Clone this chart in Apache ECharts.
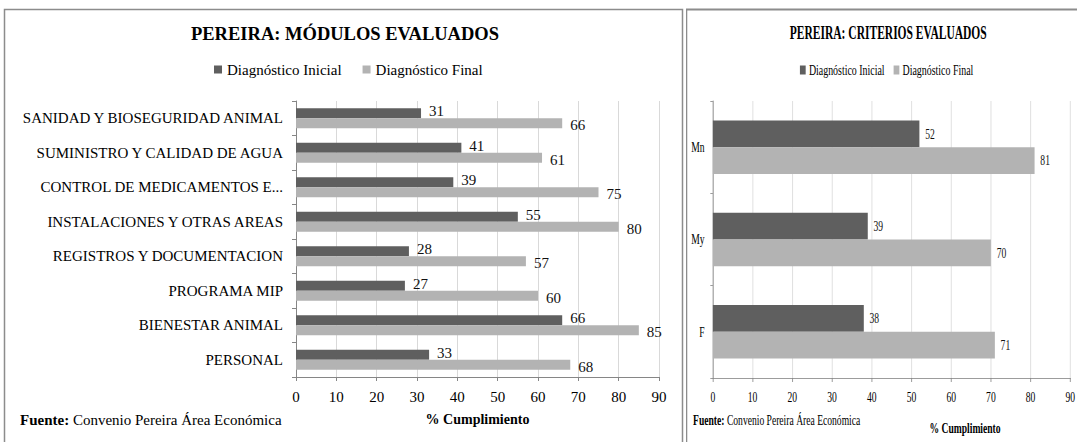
<!DOCTYPE html>
<html>
<head>
<meta charset="utf-8">
<script src="https://cdn.jsdelivr.net/npm/echarts@6/dist/echarts.min.js"></script>
<style>
  html, body { margin: 0; padding: 0; background: #fff; }
  #left { position: absolute; left: 0; top: 0; width: 686px; height: 442px; }
  #rightWrap { position: absolute; left: 686px; top: 0; width: 391px; height: 442px; overflow: hidden; }
  #right { width: 611px; height: 442px; transform: scaleX(0.64); transform-origin: 0 0; }
</style>
</head>
<body>
<div id="left"></div>
<div id="rightWrap"><div id="right"></div></div>
<script>
// ---- Data ----
const seriesNames = ['Diagnóstico Inicial', 'Diagnóstico Final'];
const moduleCategories = [
  'SANIDAD Y BIOSEGURIDAD ANIMAL',
  'SUMINISTRO Y CALIDAD DE AGUA',
  'CONTROL DE MEDICAMENTOS E...',
  'INSTALACIONES Y OTRAS AREAS',
  'REGISTROS Y DOCUMENTACION',
  'PROGRAMA MIP',
  'BIENESTAR ANIMAL',
  'PERSONAL'
];
const moduleInicial = [31, 41, 39, 55, 28, 27, 66, 33];
const moduleFinal   = [66, 61, 75, 80, 57, 60, 85, 68];

const criteriaCategories = ['Mn', 'My', 'F'];
const criteriaInicial = [52, 39, 38];
const criteriaFinal   = [81, 70, 71];

const axisMin = 0, axisMax = 90, axisStep = 10;

// ---- Styles ----
const FONT = '"Liberation Serif", "Times New Roman", serif';
const DARK = '#5f5f5f';
const LIGHT = '#b3b3b3';
const AXIS = '#868686';
const GRID = '#d9d9d9';

function xAxisCfg(extra) {
  return Object.assign({
    type: 'value', min: axisMin, max: axisMax, interval: axisStep,
    axisLine: { show: true, lineStyle: { color: AXIS, width: 1 } },
    axisTick: { show: true, length: 4, lineStyle: { color: AXIS } },
    splitLine: { show: true, lineStyle: { color: GRID, width: 1 } },
    axisLabel: { fontFamily: FONT, fontSize: 15, color: '#000', margin: 12 }
  }, extra || {});
}
function yAxisCfg(cats) {
  return {
    type: 'category', inverse: true, data: cats,
    axisLine: { show: true, lineStyle: { color: AXIS, width: 1 } },
    axisTick: { show: true, length: 4, lineStyle: { color: AXIS } },
    axisLabel: { fontFamily: FONT, fontSize: 15, color: '#000', margin: 13 },
    splitLine: { show: false }
  };
}
function barSeries(name, data, color, labelOffset, dist) {
  return {
    type: 'bar', name: name, data: data,
    itemStyle: { color: color },
    barGap: '0%', barCategoryGap: '42%',
    label: { show: true, position: 'right', distance: dist, offset: labelOffset,
             fontFamily: FONT, fontSize: 15, color: '#111' }
  };
}
function fuente(x, y) {
  return {
    type: 'text', x: x, y: y,
    style: {
      text: '{b|Fuente:} {n|Convenio Pereira Área Económica}',
      fontFamily: FONT, fontSize: 15, fill: '#000', verticalAlign: 'middle',
      rich: {
        b: { fontWeight: 'bold', fontFamily: FONT, fontSize: 15, fill: '#000' },
        n: { fontFamily: FONT, fontSize: 15, fill: '#000' }
      }
    }
  };
}

// ---- Left chart ----
const left = echarts.init(document.getElementById('left'), null, { renderer: 'svg' });
left.setOption({
  animation: false,
  textStyle: { fontFamily: FONT },
  title: {
    text: 'PEREIRA: MÓDULOS EVALUADOS', left: 345, textAlign: 'center', top: 24, padding: 0,
    textStyle: { fontFamily: FONT, fontSize: 18.5, fontWeight: 'bold', color: '#000' }
  },
  legend: {
    data: seriesNames, left: 214, top: 62, padding: 0, itemGap: 21,
    itemWidth: 8, itemHeight: 8, icon: 'rect',
    textStyle: { fontFamily: FONT, fontSize: 15, color: '#000' }
  },
  grid: { left: 296, top: 101, width: 363, height: 276, containLabel: false },
  xAxis: xAxisCfg({
    name: '% Cumplimiento', nameLocation: 'middle', nameGap: 35,
    nameTextStyle: { fontFamily: FONT, fontSize: 14, fontWeight: 'bold', color: '#000' }
  }),
  yAxis: yAxisCfg(moduleCategories),
  series: [
    barSeries(seriesNames[0], moduleInicial, DARK, [0, -2], 8),
    barSeries(seriesNames[1], moduleFinal, LIGHT, [0, 2], 8)
  ],
  graphic: [
    { type: 'rect', shape: { x: 4.5, y: 9.5, width: 678, height: 450 },
      style: { fill: 'none', stroke: '#8c8c8c', lineWidth: 1.5 }, silent: true },
    fuente(20, 420)
  ]
});

// ---- Right chart (horizontally condensed like the reference) ----
const right = echarts.init(document.getElementById('right'), null, { renderer: 'svg' });
right.setOption({
  animation: false,
  textStyle: { fontFamily: FONT },
  title: {
    text: 'PEREIRA: CRITERIOS EVALUADOS', left: 316, textAlign: 'center', top: 24, padding: 0,
    textStyle: { fontFamily: FONT, fontSize: 18, fontWeight: 'bold', color: '#000' }
  },
  legend: {
    data: seriesNames, left: 178, top: 62, padding: 0, itemGap: 14,
    itemWidth: 9, itemHeight: 9, icon: 'rect',
    textStyle: { fontFamily: FONT, fontSize: 15.5, color: '#000' }
  },
  grid: { left: 42, top: 101, width: 567, height: 277, containLabel: false },
  xAxis: xAxisCfg(),
  yAxis: yAxisCfg(criteriaCategories),
  series: [
    barSeries(seriesNames[0], criteriaInicial, DARK, [0, 0], 9),
    barSeries(seriesNames[1], criteriaFinal, LIGHT, [0, 0], 9)
  ],
  graphic: [
    { type: 'rect', shape: { x: 1, y: 9.5, width: 700, height: 450 },
      style: { fill: 'none', stroke: '#8c8c8c', lineWidth: 2 }, silent: true },
    fuente(11, 420),
    { type: 'text', x: 436, y: 428,
      style: { text: '% Cumplimiento', fontFamily: FONT, fontSize: 15, fontWeight: 'bold',
               fill: '#000', align: 'center', verticalAlign: 'middle' } }
  ]
});
</script>
</body>
</html>
